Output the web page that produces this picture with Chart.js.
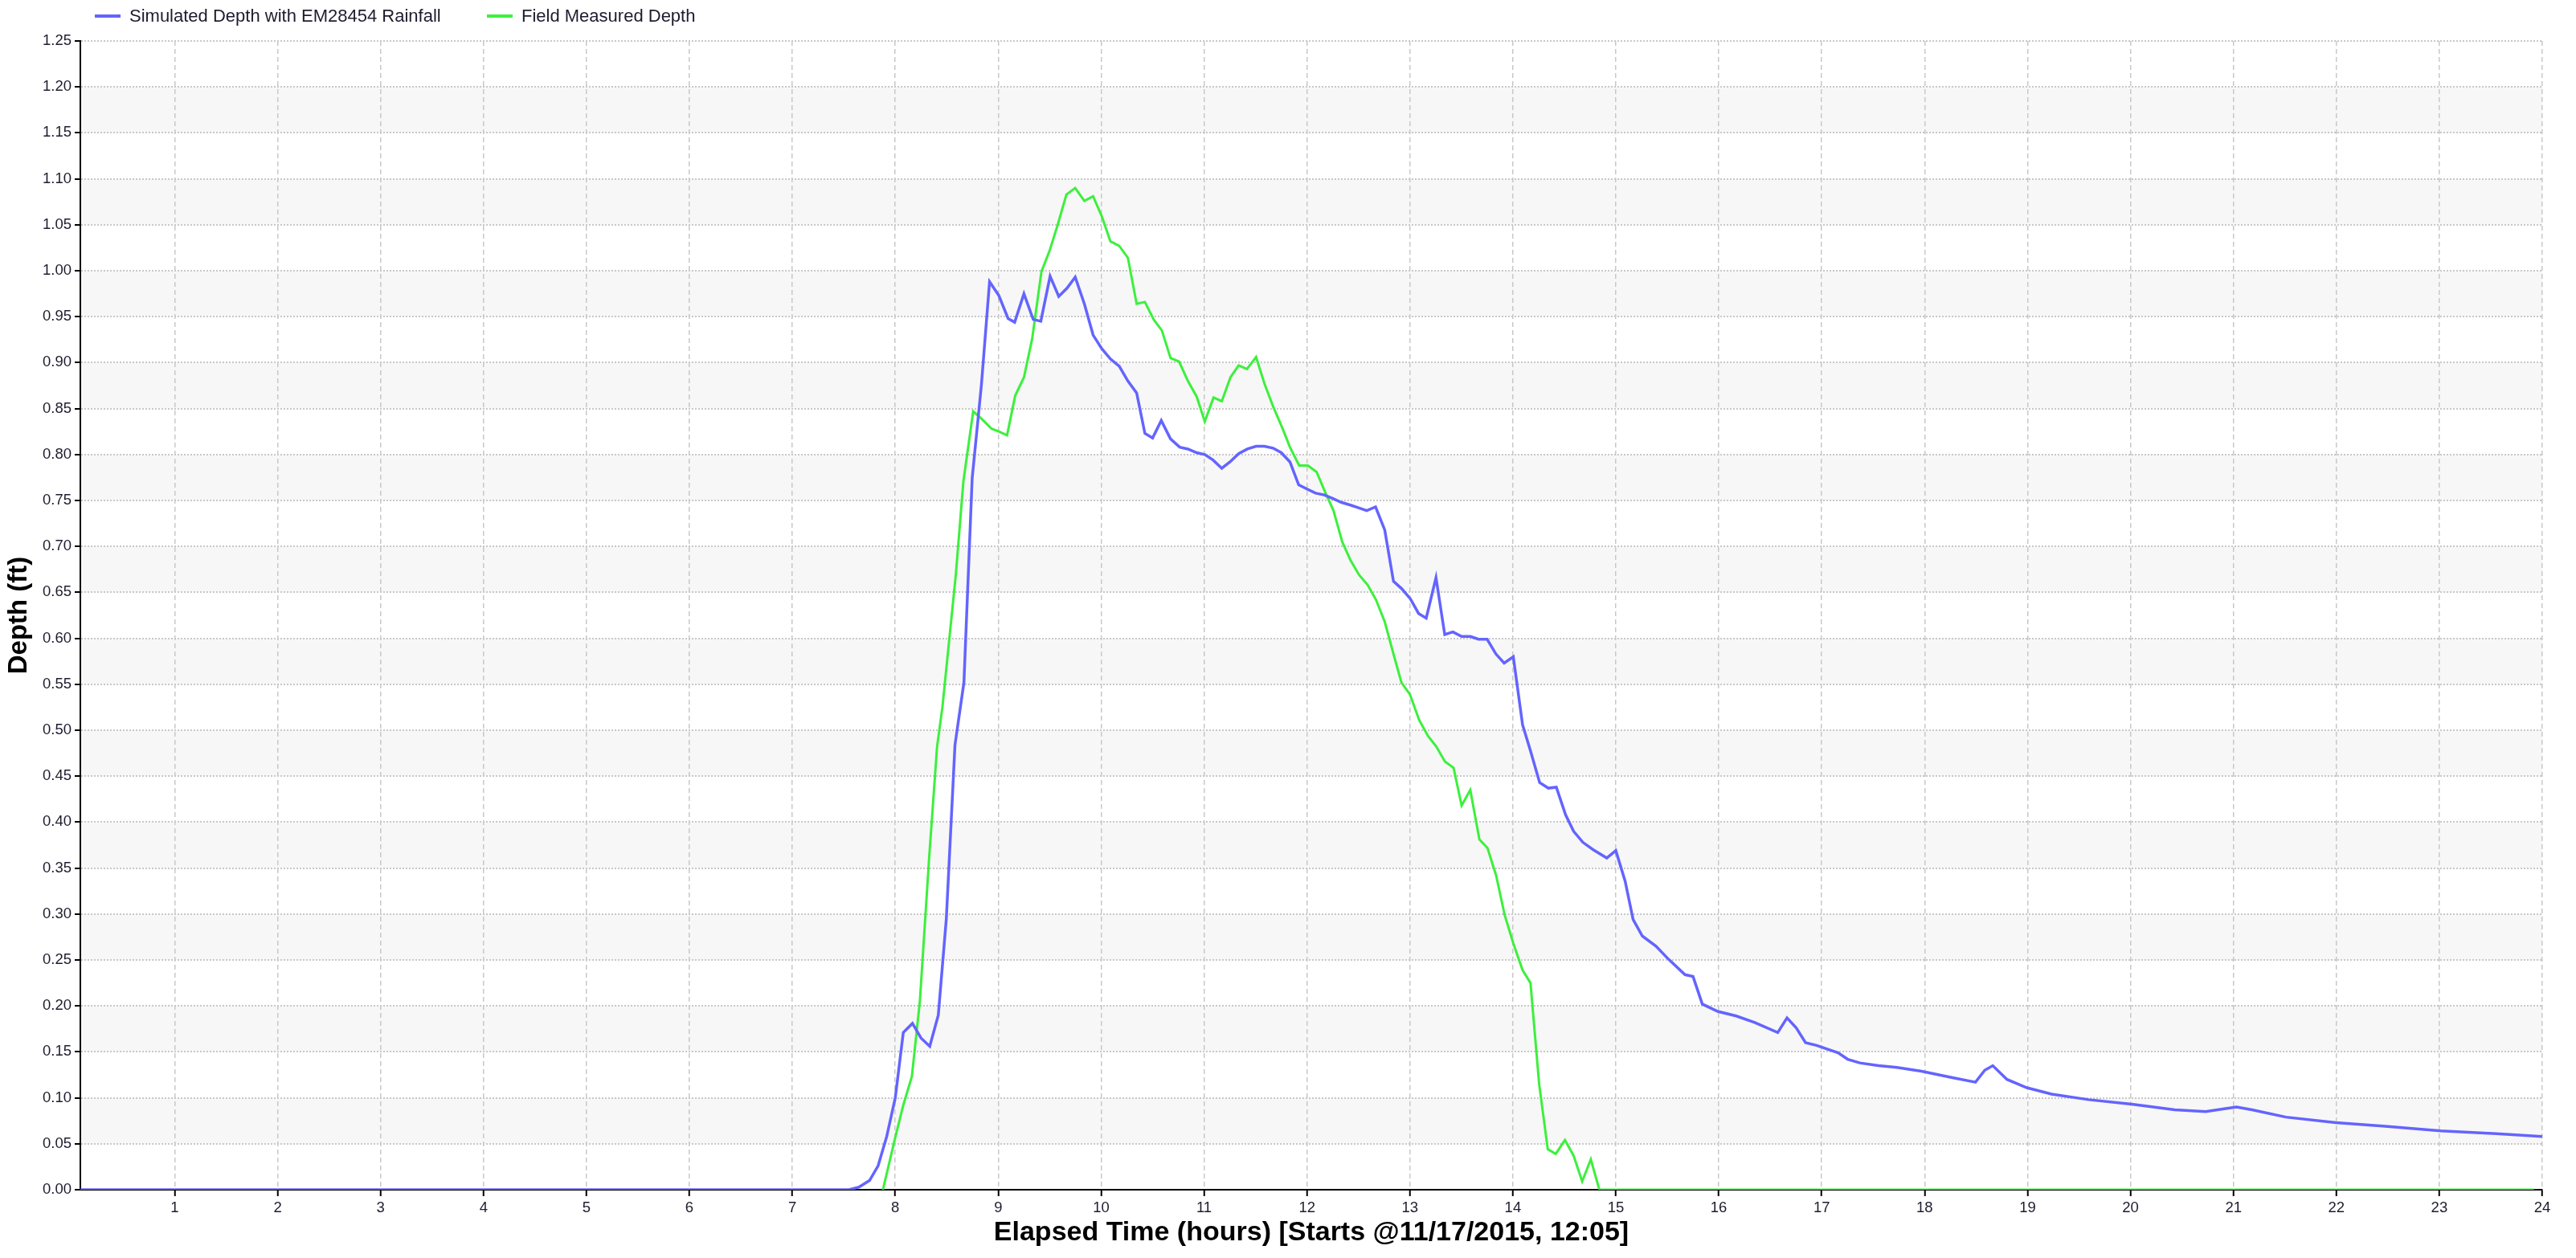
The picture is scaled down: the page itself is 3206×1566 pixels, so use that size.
<!DOCTYPE html>
<html>
<head>
<meta charset="utf-8">
<title>Depth comparison</title>
<script src="https://cdn.jsdelivr.net/npm/chart.js@4.4.1/dist/chart.umd.min.js"></script>
<style>
  html, body { margin: 0; padding: 0; background: #fff; }
  #wrap { position: relative; width: 3206px; height: 1566px; }
  #depthChart { position: absolute; left: 0; top: 0; }
  .legend-item { position: absolute; top: 6px; height: 28px; display: flex; align-items: center;
    font-family: "Liberation Sans", Arial, sans-serif; font-size: 22px; color: #1c1c2e; white-space: nowrap; }
  .legend-item .swatch { width: 32px; height: 4px; margin-right: 11px; }
</style>
</head>
<body>
<div id="wrap">
  <canvas id="depthChart" width="3206" height="1566"></canvas>
  <div class="legend-item" style="left:118px"><span class="swatch" style="background:#6464FF"></span>Simulated Depth with EM28454 Rainfall</div>
  <div class="legend-item" style="left:606px"><span class="swatch" style="background:#3CF03C"></span>Field Measured Depth</div>
</div>
<script>
// Elapsed time (hours) vs depth (ft)

const SIM_HOURS = [
  0.083, 7.55, 7.65, 7.75, 7.833, 7.917, 8.0, 8.078, 8.167, 8.25, 8.335, 8.418, 8.496, 8.58, 8.667,
  8.747, 8.837, 8.916, 9.006, 9.096, 9.16, 9.25, 9.34, 9.414, 9.504, 9.588, 9.668, 9.748, 9.837, 9.922,
  10.007, 10.09, 10.176, 10.26, 10.345, 10.425, 10.5, 10.584, 10.674, 10.763, 10.843, 10.928, 11.007,
  11.087, 11.172, 11.252, 11.336, 11.421, 11.505, 11.585, 11.67, 11.75, 11.834, 11.919, 12.008, 12.083,
  12.168, 12.252, 12.332, 12.422, 12.501, 12.58, 12.666, 12.755, 12.84, 12.92, 13.004, 13.084, 13.158,
  13.253, 13.338, 13.417, 13.502, 13.587, 13.666, 13.75, 13.835, 13.915, 14.004, 14.094, 14.17, 14.26,
  14.344, 14.422, 14.512, 14.59, 14.68, 14.78, 14.912, 15.0, 15.09, 15.168, 15.258, 15.39, 15.51, 15.672,
  15.75, 15.84, 15.99, 16.17, 16.35, 16.573, 16.663, 16.753, 16.843, 16.951, 17.16, 17.252, 17.37, 17.55,
  17.73, 17.97, 18.27, 18.494, 18.584, 18.662, 18.8, 18.993, 19.233, 19.593, 20.01, 20.43, 20.73, 20.91,
  21.03, 21.18, 21.51, 21.995, 22.475, 23.015, 23.556, 24.0
];
const SIM_DEPTH = [
  0, 0, 0.003, 0.010, 0.026, 0.058, 0.100, 0.171, 0.181, 0.165, 0.156, 0.190, 0.295, 0.484, 0.552,
  0.774, 0.876, 0.988, 0.973, 0.948, 0.944, 0.975, 0.947, 0.945, 0.994, 0.972, 0.981, 0.993, 0.964, 0.930,
  0.915, 0.904, 0.896, 0.880, 0.867, 0.823, 0.818, 0.837, 0.817, 0.808, 0.806, 0.802, 0.800,
  0.794, 0.785, 0.792, 0.801, 0.806, 0.809, 0.809, 0.807, 0.802, 0.792, 0.767, 0.762, 0.758,
  0.756, 0.752, 0.748, 0.745, 0.742, 0.739, 0.743, 0.718, 0.662, 0.654, 0.643, 0.627, 0.622,
  0.666, 0.604, 0.607, 0.602, 0.602, 0.599, 0.599, 0.583, 0.573, 0.580, 0.506, 0.478, 0.443,
  0.437, 0.438, 0.408, 0.390, 0.378, 0.370, 0.361, 0.369, 0.336, 0.294, 0.276, 0.265, 0.251, 0.234,
  0.232, 0.202, 0.194, 0.189, 0.182, 0.171, 0.187, 0.176, 0.160, 0.157, 0.149, 0.142, 0.138, 0.135,
  0.133, 0.129, 0.122, 0.117, 0.130, 0.135, 0.120, 0.111, 0.104, 0.098, 0.093, 0.087, 0.085, 0.088,
  0.090, 0.087, 0.079, 0.073, 0.069, 0.064, 0.061, 0.058
];

const FIELD_HOURS = [
  7.88, 8.0, 8.078, 8.161, 8.239, 8.329, 8.406, 8.458, 8.588, 8.662, 8.757, 8.837, 8.936, 9.006, 9.086,
  9.165, 9.25, 9.33, 9.42, 9.5, 9.578, 9.663, 9.748, 9.837, 9.922, 10.007, 10.09, 10.176, 10.26, 10.345,
  10.425, 10.51, 10.59, 10.674, 10.758, 10.843, 10.928, 11.007, 11.092, 11.172, 11.256, 11.336, 11.416,
  11.505, 11.59, 11.675, 11.76, 11.834, 11.924, 12.008, 12.093, 12.173, 12.257, 12.342, 12.422, 12.506,
  12.59, 12.67, 12.755, 12.84, 12.917, 13.0, 13.09, 13.174, 13.257, 13.34, 13.424, 13.502, 13.586,
  13.675, 13.753, 13.837, 13.92, 14.004, 14.094, 14.171, 14.255, 14.339, 14.416, 14.506, 14.59, 14.673,
  14.757, 14.84, 23.92
];
const FIELD_DEPTH = [
  0, 0.057, 0.092, 0.123, 0.205, 0.361, 0.482, 0.525, 0.669, 0.771, 0.847, 0.839, 0.828, 0.825, 0.821,
  0.864, 0.884, 0.926, 0.999, 1.022, 1.050, 1.083, 1.090, 1.076, 1.081, 1.059, 1.032, 1.027, 1.014, 0.964,
  0.966, 0.947, 0.935, 0.905, 0.901, 0.880, 0.863, 0.836, 0.862, 0.858, 0.884, 0.897, 0.893,
  0.906, 0.876, 0.851, 0.829, 0.808, 0.788, 0.788, 0.781, 0.760, 0.739, 0.705, 0.685, 0.669,
  0.658, 0.642, 0.618, 0.583, 0.552, 0.539, 0.511, 0.494, 0.482, 0.466, 0.459, 0.418, 0.435,
  0.381, 0.372, 0.342, 0.299, 0.268, 0.239, 0.225, 0.115, 0.044, 0.039, 0.054, 0.037, 0.009,
  0.033, 0, 0
];

const X_TICKS = [1, 2, 3, 4, 5, 6, 7, 8, 9, 10, 11, 12, 13, 14, 15, 16, 17, 18, 19, 20, 21, 22, 23, 24];
const Y_TICKS = [0, 0.05, 0.10, 0.15, 0.20, 0.25, 0.30, 0.35, 0.40, 0.45, 0.50, 0.55, 0.60,
  0.65, 0.70, 0.75, 0.80, 0.85, 0.90, 0.95, 1.00, 1.05, 1.10, 1.15, 1.20, 1.25];

const BLUE = "#6464FF";
const GREEN = "#3CF03C";
const GRID_CLR = "#C8C8C8";
const TICK_CLR = "#1c1c2e";
const FONT = "'Liberation Sans', Arial, sans-serif";

const toPoints = (xs, ys) => xs.map((x, i) => ({ x, y: ys[i] }));

// grey stripe on every other 0.05 band (0.05-0.10, 0.15-0.20, ...)
const bandPlugin = {
  id: "bands",
  beforeDraw(chart) {
    const { ctx, chartArea, scales } = chart;
    const y = scales.y;
    ctx.save();
    ctx.fillStyle = "#F7F7F7";
    for (let i = 1; i < Y_TICKS.length - 1; i += 2) {
      const top = y.getPixelForValue(Y_TICKS[i + 1]);
      const bot = y.getPixelForValue(Y_TICKS[i]);
      ctx.fillRect(chartArea.left, top, chartArea.right - chartArea.left, bot - top);
    }
    ctx.restore();
  },
};

new Chart(document.getElementById("depthChart"), {
  type: "line",
  data: {
    datasets: [
      {
        label: "Simulated Depth with EM28454 Rainfall",
        data: toPoints(SIM_HOURS, SIM_DEPTH),
        borderColor: BLUE,
        borderWidth: 3.5,
        pointRadius: 0,
        tension: 0,
        fill: false,
      },
      {
        label: "Field Measured Depth",
        data: toPoints(FIELD_HOURS, FIELD_DEPTH),
        borderColor: GREEN,
        borderWidth: 3,
        pointRadius: 0,
        tension: 0,
        fill: false,
      },
    ],
  },
  options: {
    responsive: false,
    animation: false,
    devicePixelRatio: 1,
    layout: { padding: { top: 51, right: 42, left: 0, bottom: 0 } },
    plugins: {
      legend: { display: false },
      tooltip: { enabled: false },
    },
    scales: {
      x: {
        type: "linear",
        min: 0.0833,
        max: 24,
        afterBuildTicks: (s) => { s.ticks = X_TICKS.map((v) => ({ value: v })); },
        afterFit: (s) => { s.height = 85; },
        grid: { color: GRID_CLR, lineWidth: 1.5, tickLength: 8, tickColor: "#000", tickWidth: 2, tickBorderDash: [] },
        border: { color: "#000", width: 2, dash: [6, 4] },
        ticks: {
          color: TICK_CLR,
          padding: 4,
          maxRotation: 0,
          autoSkip: false,
          font: { family: FONT, size: 18.5 },
          callback: (v) => String(v),
        },
        title: {
          display: true,
          text: "Elapsed Time (hours) [Starts @11/17/2015, 12:05]",
          color: "#000",
          font: { family: FONT, size: 34, weight: "bold" },
          padding: { top: 0, bottom: 11 },
        },
      },
      y: {
        type: "linear",
        min: 0,
        max: 1.25,
        afterBuildTicks: (s) => { s.ticks = Y_TICKS.map((v) => ({ value: v })); },
        afterFit: (s) => { s.width = 100; },
        grid: { color: GRID_CLR, lineWidth: 2, tickLength: 7, tickColor: "#000", tickWidth: 2, tickBorderDash: [] },
        border: { color: "#000", width: 2, dash: [2, 2] },
        ticks: {
          color: TICK_CLR,
          padding: 4,
          autoSkip: false,
          font: { family: FONT, size: 18.5 },
          callback: (v) => Number(v).toFixed(2),
        },
        title: {
          display: true,
          text: "Depth (ft)",
          color: "#000",
          font: { family: FONT, size: 33, weight: "bold" },
          padding: { top: 4, bottom: 0 },
        },
      },
    },
  },
  plugins: [bandPlugin],
});
</script>
</body>
</html>
